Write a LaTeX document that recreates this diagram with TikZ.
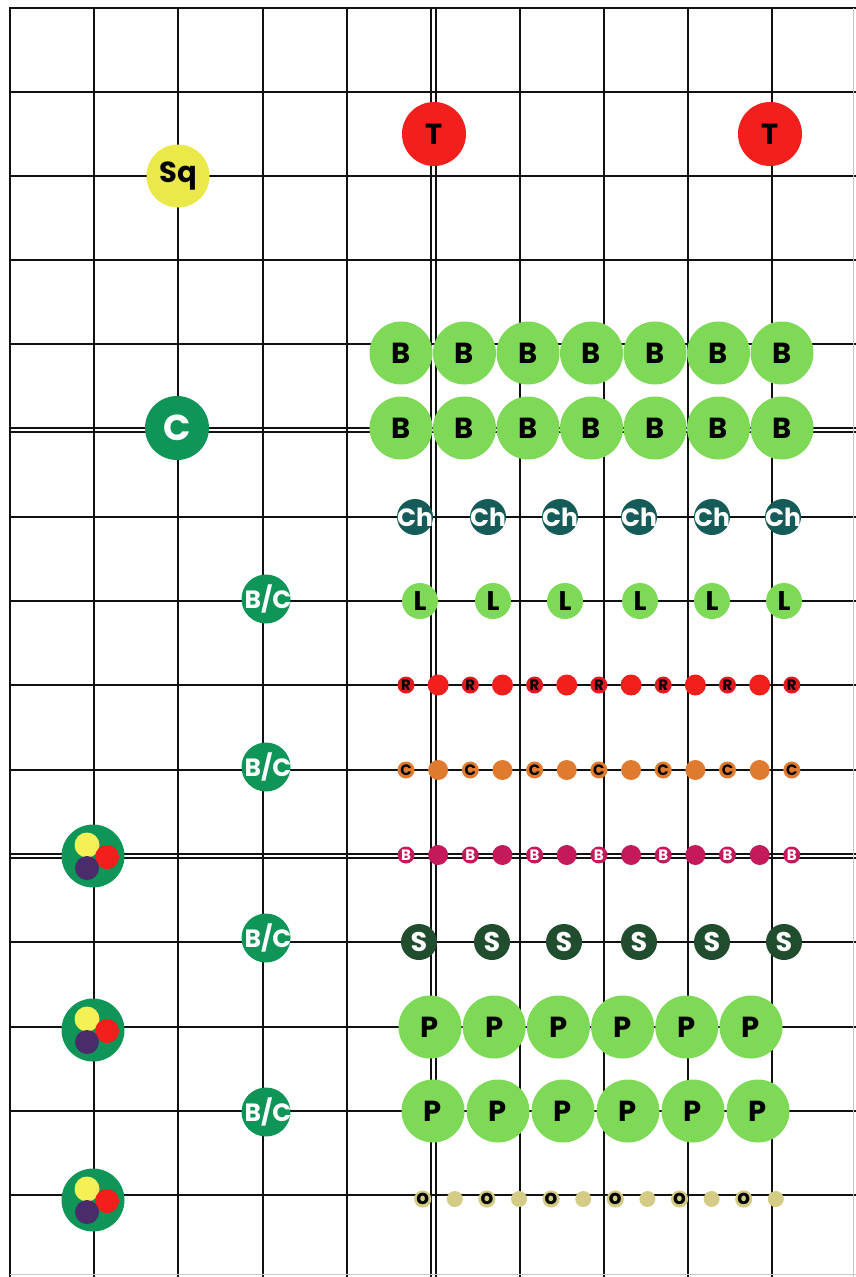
\documentclass[tikz,border=0pt]{standalone}
\usepackage{fontspec}
\setmainfont{Poppins}
\usepackage{xcolor}
\definecolor{ink}{HTML}{111111}
\definecolor{faint}{HTML}{C8C8C8}
\definecolor{sun}{HTML}{EBE84A}
\definecolor{tomato}{HTML}{F21F1C}
\definecolor{leaf}{HTML}{7ED957}
\definecolor{forest}{HTML}{0F9558}
\definecolor{teal}{HTML}{155B57}
\definecolor{pine}{HTML}{1F4D2E}
\definecolor{ember}{HTML}{E01A1E}
\definecolor{amber}{HTML}{E07A2E}
\definecolor{berry}{HTML}{C4195A}
\definecolor{khaki}{HTML}{D4CB86}
\definecolor{plum}{HTML}{4A2C6A}
\definecolor{lemon}{HTML}{F4F055}
\tikzset{
  gridline/.style={draw=ink,line width=2.8pt},
  edgeline/.style={draw=faint,line width=1pt},
  txt/.style={font=\fontsize{#1}{#1}\selectfont\bfseries},
  bead/.style={circle,inner sep=0pt,minimum size=#1},
  bigbead/.style={bead=63pt,fill=leaf,text=black,txt=29},
  midbead/.style={bead=36pt,txt=27},
  hub/.style={bead=49pt,fill=forest,text=white,txt=25},
  seed/.style={bead=17pt,txt=15},
  grain/.style={bead=15pt,fill=khaki,txt=20},
  spot/.style={circle,inner sep=0pt},
}
\newcommand{\snug}[1]{\makebox[0pt]{#1}}

\begin{document}
\begin{tikzpicture}[x=1pt,y=-1pt]
\useasboundingbox (0,0) rectangle (856,1277);

% --- grid (four tiles, seams doubled)
\foreach \gx in {10,94,178,263,347,431,436,520,604,688,772}
  \draw[gridline] (\gx,7) -- (\gx,1277);
\foreach \gy in {8,92,176,260,344,428,432,517,601,685,770,854,858,942,1027,1111,1195}
  \draw[gridline] (9,\gy) -- (856,\gy);
\draw[edgeline] (853,8) -- (853,1277);
\draw[edgeline] (10,1274) -- (856,1274);

% --- left column
\node[bead=63pt,fill=sun,text=black,txt=29] (sq) at (178,176) {Sq};
\node[bead=64pt,fill=forest,text=white,txt=36] (c) at (177,428) {C};
\foreach \y [count=\i] in {599,767,938,1112}
  \node[hub] (bc\i) at (266,\y) {\snug{\,B/C}};
\foreach \y [count=\i] in {856,1030,1200} {
  \node[spot,minimum size=63pt,fill=forest] (mix\i) at (93,\y) {};
  \fill[lemon] ([shift={(-6,-11)}]mix\i.center) circle (12.5);
  \fill[tomato] ([shift={(14,1)}]mix\i.center) circle (12);
  \fill[plum] ([shift={(-6,12)}]mix\i.center) circle (12);
}

% --- top right
\node[bead=64pt,fill=tomato,text=black,txt=29] (t1) at (434,134) {T};
\node[bead=64pt,fill=tomato,text=black,txt=29] (t2) at (770,134) {T};

% --- big rows
\foreach \i in {0,...,6} {
  \node[bigbead] (ba\i) at (401+63.5*\i,353) {B};
  \node[bigbead] (bb\i) at (401+63.5*\i,428) {B};
}
\foreach \i in {0,...,5} {
  \node[bigbead] (pa\i) at (430+64.2*\i,1027) {P};
  \node[bigbead] (pb\i) at (433+65*\i,1111) {P};
}

% --- medium rows
\foreach \x [count=\i] in {415,488,560,639,712,783}
  \node[midbead,fill=teal,text=white,txt=25] (ch\i) at (\x,517) {\snug{Ch}};
\foreach \x [count=\i] in {420,493,565,640,712,784}
  \node[midbead,fill=leaf,text=black] (l\i) at (\x,601) {L};
\foreach \x [count=\i] in {419,492,564,639,712,784}
  \node[midbead,fill=pine,text=white] (s\i) at (\x,942) {S};

% --- small alternating rows
\foreach \k in {0,...,12} {
  \pgfmathsetmacro{\sx}{406+32.15*\k}
  \ifodd\k
    \node[spot,minimum size=21pt,fill=tomato] (r\k) at (\sx,685) {};
    \node[spot,minimum size=20pt,fill=amber] (o\k) at (\sx,770) {};
    \node[spot,minimum size=20pt,fill=berry] (m\k) at (\sx,855) {};
  \else
    \node[seed,fill=ember,text=black] (r\k) at (\sx,685) {R};
    \node[seed,fill=amber,text=black] (o\k) at (\sx,770) {C};
    \node[seed,fill=berry,text=white] (m\k) at (\sx,855) {B};
  \fi
}
\foreach \k in {0,...,11} {
  \pgfmathsetmacro{\sx}{422.7+32.1*\k}
  \ifodd\k
    \node[spot,minimum size=16pt,fill=khaki] (g\k) at (\sx,1199) {};
  \else
    \node[grain,text=black] (g\k) at (\sx,1199) {o};
  \fi
}

\end{tikzpicture}
\end{document}
